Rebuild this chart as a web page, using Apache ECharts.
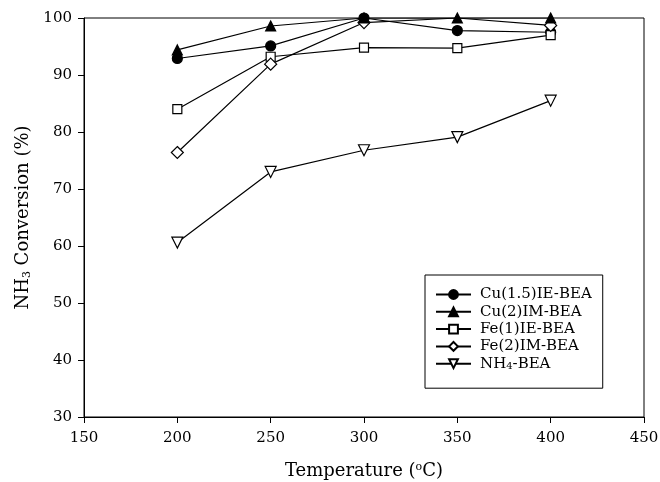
<!DOCTYPE html>
<html><head><meta charset="utf-8">
<script src="https://cdn.jsdelivr.net/npm/echarts@6/dist/echarts.min.js"></script>
<style>html,body{margin:0;padding:0;background:#fff}#c{width:660px;height:482px}</style>
</head><body><div id="c"></div>
<script>
const temps = [200, 250, 300, 350, 400];
const cu15IE = [92.9, 95.1, 100.0, 97.8, 97.5];
const cu2IM = [94.4, 98.6, 100.0, 100.0, 100.0];
const fe1IE = [84.0, 93.2, 94.8, 94.7, 97.0];
const fe2IM = [76.4, 91.9, 99.2, 100.0, 98.7];
const nh4 = [60.6, 73.0, 76.8, 79.1, 85.5];
const seriesNames = ['Cu(1.5)IE-BEA', 'Cu(2)IM-BEA', 'Fe(1)IE-BEA', 'Fe(2)IM-BEA', 'NH4-BEA'];

const font = '"DejaVu Serif", "Liberation Serif", serif';
const pair = v => v.map((y, i) => [temps[i], y]);
function mk(name, data, symbol, size, filled, z, rotate) {
  return {
    name, type: 'line', data: pair(data), symbol, symbolSize: size, symbolRotate: rotate || 0,
    showAllSymbol: true, z: z,
    lineStyle: { color: '#000', width: 1.2 },
    itemStyle: { color: filled ? '#000' : '#fff', borderColor: '#000', borderWidth: 1.2 },
    emphasis: { disabled: true }, animation: false
  };
}
// the diamond at 350 °C is hidden under the triangle in the original figure
const diamond = mk(seriesNames[3], fe2IM, 'diamond', 12, false, 5);
diamond.symbolSize = (v, p) => (p && p.dataIndex === 3) ? 0 : 12;

const chart = echarts.init(document.getElementById('c'), null, { renderer: 'canvas' });
chart.setOption({
  animation: false,
  grid: { left: 84, right: 16, top: 18, bottom: 65, show: true, borderColor: '#000', borderWidth: 1, containLabel: false, outerBoundsMode: 'none' },
  xAxis: {
    type: 'value', min: 150, max: 450, interval: 50,
    name: '{a|Temperature (}{sup|o}{a|C)}', nameLocation: 'middle', nameGap: 45,
    nameTextStyle: { rich: { a: { fontFamily: font, fontSize: 18, color: '#000' }, sup: { fontFamily: font, fontSize: 11, color: '#000', verticalAlign: 'top', padding: [0, 0, 8, 0] } } },
    axisLine: { lineStyle: { color: '#000', width: 1 } },
    axisTick: { inside: false, length: 6, lineStyle: { color: '#000' } },
    axisLabel: { fontFamily: font, fontSize: 15, color: '#000', margin: 14 },
    splitLine: { show: false }
  },
  yAxis: {
    type: 'value', min: 30, max: 100, interval: 10,
    name: '{a|NH}{sub|3}{a| Conversion (%)}', nameLocation: 'middle', nameGap: 51, nameRotate: 90,
    nameTextStyle: { rich: { a: { fontFamily: font, fontSize: 18, color: '#000' }, sub: { fontFamily: font, fontSize: 11, color: '#000', verticalAlign: 'bottom', padding: [8, 0, 0, 0] } } },
    axisLine: { show: true, lineStyle: { color: '#000', width: 1 } },
    axisTick: { show: true, inside: false, length: 6, lineStyle: { color: '#000' } },
    axisLabel: { fontFamily: font, fontSize: 15, color: '#000', margin: 12 },
    splitLine: { show: false }
  },
  legend: {
    orient: 'vertical', left: 425, top: 275,
    padding: [12, 11, 17, 10], itemGap: 2.3, itemWidth: 35, itemHeight: 11,
    borderColor: '#000', borderWidth: 1, backgroundColor: '#fff',
    data: seriesNames,
    formatter: n => n === 'NH4-BEA' ? '{a|NH}{sub|4}{a|-BEA}' : '{a|' + n + '}',
    textStyle: { fontFamily: font, fontSize: 15, lineHeight: 15, color: '#000', padding: [0, 0, 0, 4], rich: { a: { fontFamily: font, fontSize: 15, lineHeight: 15, color: '#000' }, sub: { fontFamily: font, fontSize: 10, color: '#000', verticalAlign: 'bottom', padding: [6, 0, 0, 0] } } }
  },
  series: [
    mk(seriesNames[0], cu15IE, 'circle', 10, true, 2),
    mk(seriesNames[1], cu2IM, 'triangle', 10, true, 6),
    mk(seriesNames[2], fe1IE, 'rect', 9, false, 4),
    diamond,
    mk(seriesNames[4], nh4, 'triangle', 11, false, 3, 180)
  ]
});
</script></body></html>
